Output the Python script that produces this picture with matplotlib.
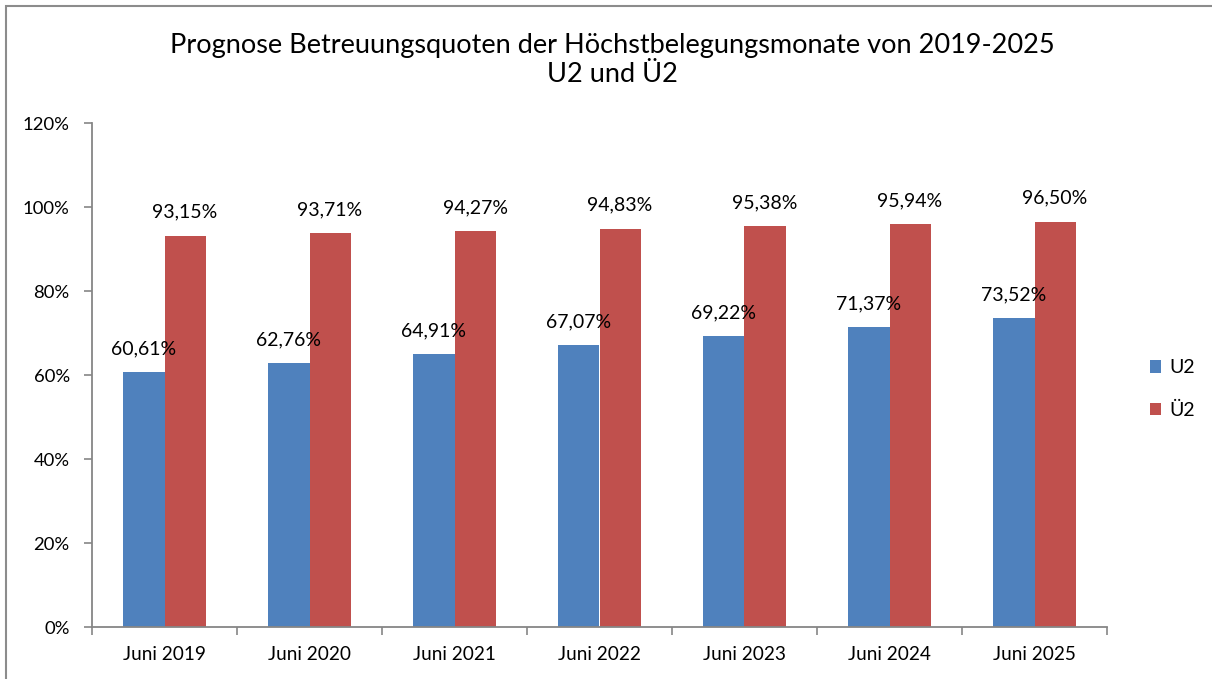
import numpy as np
import matplotlib.pyplot as plt
from matplotlib.patches import Rectangle
from matplotlib.ticker import FuncFormatter

plt.rcParams['font.family'] = ['Lato', 'DejaVu Sans']

# Betreuungsquoten (in %)
categories = ['Juni 2019', 'Juni 2020', 'Juni 2021', 'Juni 2022',
              'Juni 2023', 'Juni 2024', 'Juni 2025']
u2 = [60.61, 62.76, 64.91, 67.07, 69.22, 71.37, 73.52]
ue2 = [93.15, 93.71, 94.27, 94.83, 95.38, 95.94, 96.50]

blue = '#4F81BD'
red = '#C0504D'
grey = '#868686'

fig = plt.figure(figsize=(12.12, 6.79), dpi=100)
ax = fig.add_axes([92 / 1212, 1 - 627 / 679, (1107 - 92) / 1212, (627 - 123) / 679])

x = np.arange(len(categories))
w = 0.283
b1 = ax.bar(x - w / 2, u2, w, color=blue, label='U2')
b2 = ax.bar(x + w / 2, ue2, w, color=red, label='Ü2')

def pct(v):
    return f'{v:.2f}%'.replace('.', ',')

for rect, v in zip(b1, u2):
    ax.text(rect.get_x() + rect.get_width() / 2, v + 3.6, pct(v),
            ha='center', va='bottom', fontsize=14)
for rect, v in zip(b2, ue2):
    ax.text(rect.get_x() + rect.get_width() / 2, v + 3.6, pct(v),
            ha='center', va='bottom', fontsize=14)

ax.set_xlim(-0.5, len(categories) - 0.5)
ax.set_ylim(0, 120)
ax.set_yticks(np.arange(0, 121, 20))
ax.yaxis.set_major_formatter(FuncFormatter(lambda v, p: f'{v:.0f}%'))
ax.set_xticks(x)
ax.set_xticklabels(categories, fontsize=13.7)
ax.set_xticks(np.arange(-0.5, len(categories)), minor=True)
ax.tick_params(axis='x', which='major', length=0, pad=14)
ax.tick_params(axis='x', which='minor', length=6, color=grey, width=1.2)
ax.tick_params(axis='y', length=6, color=grey, width=1.2, labelsize=13.3, pad=10)

for s in ['top', 'right']:
    ax.spines[s].set_visible(False)
for s in ['left', 'bottom']:
    ax.spines[s].set_color(grey)
    ax.spines[s].set_linewidth(1.3)

fig.text(612 / 1212, 1 - 45 / 679, 'Prognose Betreuungsquoten der Höchstbelegungsmonate von 2019-2025',
         ha='center', va='center', fontsize=19.5)
fig.text(612 / 1212, 1 - 75 / 679, 'U2 und Ü2', ha='center', va='center', fontsize=19.5)

fig.legend(handles=[b1, b2], labels=['U2', 'Ü2'], loc='center left',
           bbox_to_anchor=(1132 / 1212, 1 - 389 / 679), frameon=False,
           fontsize=14, handlelength=0.6, handleheight=0.6,
           handletextpad=0.4, labelspacing=1.3)

# Rahmen um das Diagramm
fig.patches.append(Rectangle((6 / 1212, -0.05), 1.1, 1 - 6 / 679 + 0.05,
                             transform=fig.transFigure, fill=False,
                             edgecolor='#8c8c8c', linewidth=1.5))

fig.savefig('out.png', dpi=100)
